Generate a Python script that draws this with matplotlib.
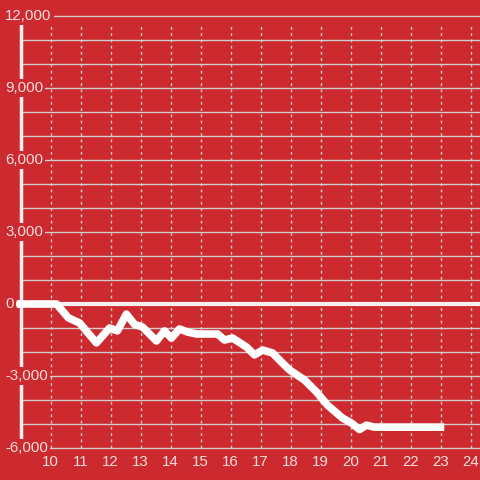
import matplotlib
matplotlib.use("Agg")
from matplotlib import pyplot

BG = "#cd2a2f"
GRID = "#d3cccc"
TEXT = "#f6dede"

hours = [9.0, 10.2, 10.6, 10.97, 11.53, 11.97, 12.23, 12.53, 12.8, 13.07, 13.53,
         13.8, 14.03, 14.3, 14.57, 14.87, 15.57, 15.8, 16.07, 16.53, 16.8, 17.07,
         17.4, 17.7, 17.97, 18.47, 18.87, 19.23, 19.73, 20.03, 20.3, 20.53, 20.8, 23.0]
balance = [0, 0, -580, -790, -1620, -1000, -1120, -420, -850, -960, -1540,
           -1120, -1420, -1040, -1170, -1250, -1250, -1500, -1420, -1790, -2120, -1920,
           -2040, -2420, -2750, -3170, -3670, -4210, -4750, -4960, -5230, -5050, -5130, -5130]

xticks = list(range(10, 25))
yticks = [12000, 9000, 6000, 3000, 0, -3000, -6000]
ygrid = list(range(-6000, 12001, 1000))

pyplot.rcParams["font.family"] = ["Liberation Sans", "DejaVu Sans"]

fig = pyplot.figure(figsize=(4.8, 4.8), dpi=100, facecolor=BG)
ax = fig.add_axes([0, 0, 1, 1])
ax.set_facecolor(BG)
ax.set_axis_off()
ax.set_xlim(10 - 50.5 / 30, 10 + 429.5 / 30)
ax.set_ylim(-6000 - 32 / 24 * 1000, 12000 + 16 / 24 * 1000)

# horizontal grid every 1000, vertical dashed grid at each hour
xmax = ax.get_xlim()[1]
for v in ygrid:
    if v == 0:
        continue
    ax.plot([9, xmax], [v, v], color=GRID, lw=1.0, zorder=1)
for h in xticks:
    ax.plot([h, h], [-6000, 11670], color=GRID, lw=1.0, ls=(0, (2, 2.5)), zorder=1)

# zero line and left axis
ax.plot([8.9, xmax], [0, 0], color="#f4f0f0", lw=3, zorder=2)
ax.plot([9, 9], [-6000, 12000], color="#f4f0f0", lw=2.5, zorder=2)

ax.plot(hours, balance, color="white", lw=5.5, solid_capstyle="projecting",
        solid_joinstyle="round", zorder=4)

for v in yticks:
    ax.text(8.3 + 5.5 / 30, v, "{:,}".format(v), color=TEXT,
            fontsize=10.8, ha="left", va="center", zorder=5,
            bbox=dict(boxstyle="square,pad=0.15", fc=BG, ec="none"))
for h in xticks:
    ax.text(h, -6000 - 13.5 / 24 * 1000, str(h), color=TEXT, fontsize=10.8,
            ha="center", va="center", zorder=5)

pyplot.savefig("out.png", dpi=100, facecolor=BG)
